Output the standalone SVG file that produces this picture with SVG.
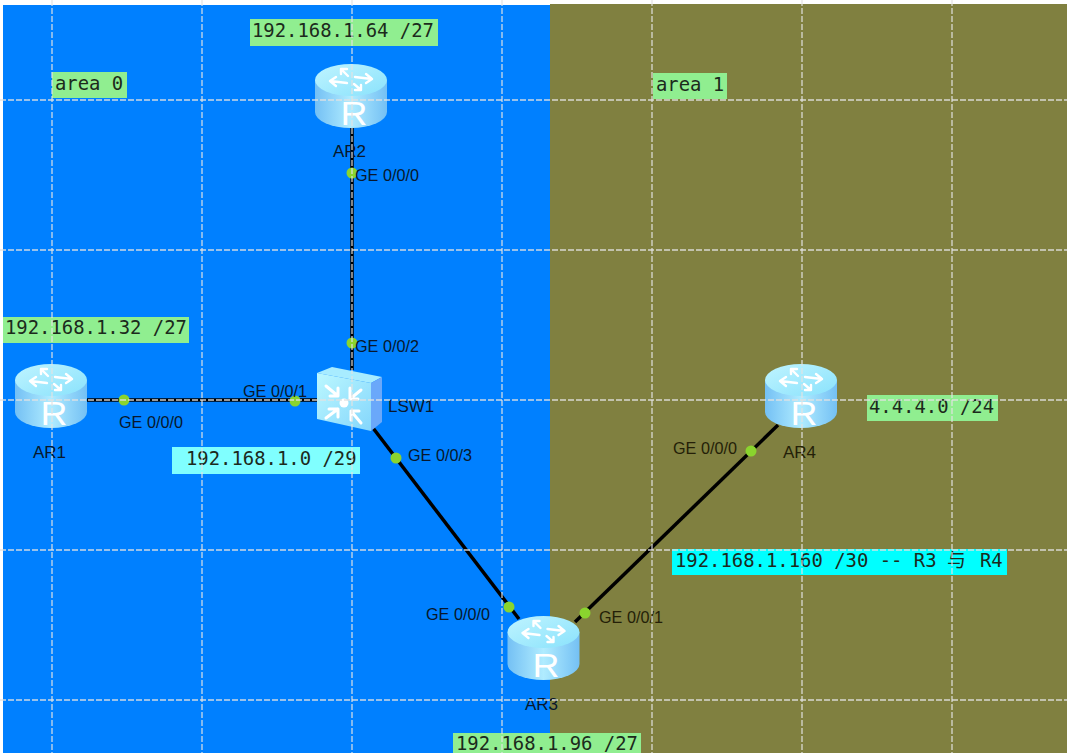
<svg xmlns="http://www.w3.org/2000/svg" width="1067" height="753" viewBox="0 0 1067 753">
<style>
.lb{font-family:"DejaVu Sans Mono","Liberation Mono",monospace;font-size:18.9px;fill:#1c2a1c}
.ge{font-family:"Liberation Sans",Arial,sans-serif;font-size:16.2px;fill:#08182c}
.ge2{font-family:"Liberation Sans",Arial,sans-serif;font-size:16.2px;fill:#241f08}
.nm{font-family:"Liberation Sans",Arial,sans-serif;font-size:17px;fill:#08182c}
.nm2{font-family:"Liberation Sans",Arial,sans-serif;font-size:17px;fill:#241f08}
.r{font-family:"Liberation Sans",Arial,sans-serif;font-size:34px;fill:#fff;text-anchor:middle}
.dot{fill:#8ad42e}
.link{stroke:#000;stroke-width:3.5;fill:none}
.grid{stroke:#e2e2e2;stroke-width:1.3;stroke-dasharray:6 2;fill:none;stroke-opacity:.9}
.ic{stroke:#fff;stroke-width:2.4;fill:none;stroke-linecap:round;stroke-linejoin:round}
.ic2{stroke:#fff;stroke-width:3;fill:none;stroke-linecap:round;stroke-linejoin:round}
</style>
<defs>
<linearGradient id="body" x1="0" x2="1" y1="0" y2="0">
<stop offset="0" stop-color="#74c0f4"/><stop offset=".5" stop-color="#b0ecff"/><stop offset="1" stop-color="#74c0f4"/>
</linearGradient>
<linearGradient id="top" x1="0" x2="1" y1="0" y2="1">
<stop offset="0" stop-color="#bff4ff"/><stop offset="1" stop-color="#8ae2fc"/>
</linearGradient>
<linearGradient id="front" x1="0" x2="1" y1="0" y2="1">
<stop offset="0" stop-color="#bcf8ff"/><stop offset="1" stop-color="#84d6fc"/>
</linearGradient>
<g id="router">
<path d="M-36 -16V16A36 16 0 0 0 36 16V-16Z" fill="url(#body)"/>
<ellipse cx="0" cy="-16" rx="36" ry="16" fill="url(#top)"/>
<g class="ic">
<path d="M-3 -20L-10 -27M-10 -27H-4M-10 -27V-22"/>
<path d="M3 -12L10 -6M10 -6H4M10 -6V-11"/>
<path d="M-4 -13L-21 -15M-21 -15L-15 -19M-21 -15L-15 -10"/>
<path d="M4 -19L21 -17M21 -17L15 -13M21 -17L15 -22"/>
</g>
</g>
</defs>
<rect width="1067" height="753" fill="#fff"/>
<rect x="3" y="5" width="547" height="748" fill="#0080ff"/>
<rect x="550" y="4" width="517" height="749" fill="#808040"/>

<g id="connectors">
<path class="link" d="M87 400H317"/>
<path class="link" d="M352 128V370"/>
<path class="link" d="M373 428L519 619"/>
<path class="link" d="M575 622L778 425"/>
</g>

<g id="AR2">
<use href="#router" x="351" y="96"/>
<text class="r" x="354" y="125" textLength="27" lengthAdjust="spacingAndGlyphs">R</text>
<text class="nm" x="333" y="157">AR2</text>
</g>
<g id="AR1">
<use href="#router" x="51" y="396"/>
<text class="r" x="54" y="425" textLength="27" lengthAdjust="spacingAndGlyphs">R</text>
<text class="nm" x="33" y="458">AR1</text>
</g>
<g id="AR3">
<use href="#router" x="543.500" y="648"/>
<text class="r" x="546" y="677" textLength="27" lengthAdjust="spacingAndGlyphs">R</text>
<text class="nm" x="525" y="710">AR3</text>
</g>
<g id="AR4">
<use href="#router" x="801" y="396"/>
<text class="r" x="804" y="425" textLength="27" lengthAdjust="spacingAndGlyphs">R</text>
<text class="nm2" x="783" y="458">AR4</text>
</g>
<g id="LSW1">
<path d="M317 373L332 367L382 377L371 383Z" fill="#a8ecff"/>
<path d="M371 383L382 377L382 422L371 431Z" fill="#6aa8fa"/>
<path d="M317 373L371 383V431L317 419Z" fill="url(#front)"/>
<g class="ic2">
<path d="M326 386L338 396M338 396V388M338 396H330"/>
<path d="M361 390L350 399M350 388V399H358"/>
<path d="M326 418L338 409M338 417V409H329"/>
<path d="M361 423L351 411M351 420V411H359"/>
</g>
<circle cx="344" cy="403" r="4.500" fill="#fff"/>
<text class="nm" x="388" y="412">LSW1</text>
</g>

<g id="ports">
<circle class="dot" cx="124" cy="400" r="5.500"/><circle class="dot" cx="295" cy="401" r="5.500"/>
<circle class="dot" cx="352" cy="343" r="5.500"/><circle class="dot" cx="352" cy="173" r="5.500"/>
<circle class="dot" cx="396" cy="458" r="5.500"/><circle class="dot" cx="509" cy="607" r="5.500"/>
<circle class="dot" cx="585" cy="613" r="5.500"/><circle class="dot" cx="751" cy="451" r="5.500"/>
<text class="ge" x="119" y="428">GE 0/0/0</text>
<text class="ge" x="243" y="397">GE 0/0/1</text>
<text class="ge" x="355" y="352">GE 0/0/2</text>
<text class="ge" x="355" y="181">GE 0/0/0</text>
<text class="ge" x="408" y="461">GE 0/0/3</text>
<text class="ge" x="426" y="620">GE 0/0/0</text>
<text class="ge2" x="599" y="623">GE 0/0/1</text>
<text class="ge2" x="673" y="454">GE 0/0/0</text>
</g>

<g id="labels">
<rect x="52" y="72" width="75" height="26" fill="#90ee90"/><text class="lb" x="55" y="90">area 0</text>
<rect x="653" y="73" width="74" height="26" fill="#90ee90"/><text class="lb" x="656" y="91">area 1</text>
<rect x="250" y="19" width="188" height="27" fill="#90ee90"/><text class="lb" x="252" y="37">192.168.1.64 /27</text>
<rect x="3" y="317" width="186" height="26" fill="#90ee90"/><text class="lb" x="5" y="334">192.168.1.32 /27</text>
<rect x="172" y="447" width="188" height="27" fill="#80ffff"/><text class="lb" x="186" y="465">192.168.1.0 /29</text>
<rect x="867" y="395" width="131" height="26" fill="#90ee90"/><text class="lb" x="869" y="413">4.4.4.0 /24</text>
<rect x="672" y="549" width="335" height="26" fill="#00ffff"/><text class="lb" x="675" y="567">192.168.1.160 /30 -- R3 <tspan x="947" style="font-family:'Noto Sans CJK SC',sans-serif">与</tspan><tspan x="980">R4</tspan></text>
<rect x="453" y="733" width="188" height="20" fill="#90ee90"/><text class="lb" x="456" y="750">192.168.1.96 /27</text>
</g>

<g id="grid">
<path class="grid" d="M52 0V753M202 0V753M352 0V753M502 0V753M652 0V753M802 0V753M952 0V753"/>
<path class="grid" d="M0 100H1067M0 250H1067M0 400H1067M0 550H1067M0 700H1067"/>
</g>
</svg>
